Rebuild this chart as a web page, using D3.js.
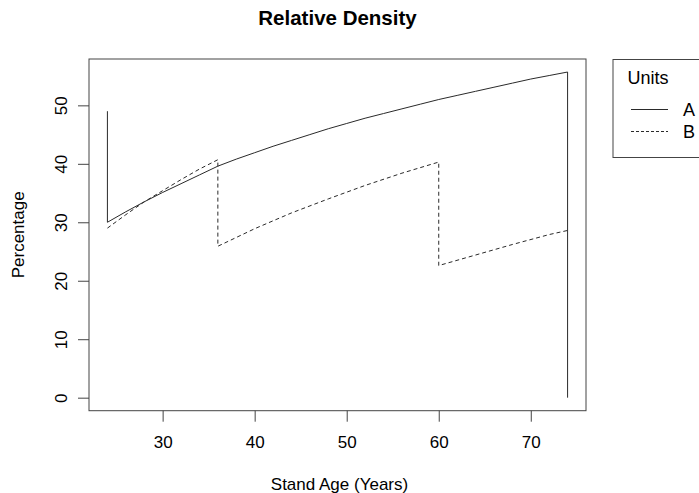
<!DOCTYPE html>
<html>
<head>
<meta charset="utf-8">
<script src="https://cdn.jsdelivr.net/npm/d3@7"></script>
<style>
  body { margin: 0; background: #fff; }
  svg text { font-family: "Liberation Sans", Arial, sans-serif; fill: #000; }
</style>
</head>
<body>
<script>
// series A (solid)
var ageA = [24, 24, 26, 28, 30, 32, 34, 36, 38, 40, 42, 44, 46, 48, 50, 52, 54, 56, 58, 60, 62, 64, 66, 68, 70, 72, 74, 74];
var valA = [49, 30.0, 31.8, 33.5, 35.1, 36.6, 38.1, 39.6, 40.8, 41.9, 43.0, 44.0, 45.0, 46.0, 46.9, 47.8, 48.6, 49.4, 50.2, 51.0, 51.7, 52.4, 53.1, 53.8, 54.5, 55.1, 55.7, 0];
// series B (dashed)
var ageB = [24, 26, 28, 30, 32, 34, 36, 36, 40, 44, 48, 52, 56, 60, 60, 64, 68, 72, 74];
var valB = [29.0, 31.3, 33.5, 35.4, 37.3, 39.1, 40.7, 25.9, 28.9, 31.6, 34.0, 36.3, 38.4, 40.3, 22.6, 24.4, 26.2, 27.9, 28.6];

var xTicks = [30, 40, 50, 60, 70];
var yTicks = [0, 10, 20, 30, 40, 50];
var legendLabels = ["A", "B"];

var width = 699, height = 493;
var box = {left: 89, right: 586, top: 59, bottom: 410.7};

var svg = d3.select("body").append("svg")
  .attr("width", width)
  .attr("height", height);

// R style 4% padding on each side
function padded(ext) {
  var p = (ext[1] - ext[0]) * 0.04;
  return [ext[0] - p, ext[1] + p];
}

var x = d3.scaleLinear()
  .domain(padded(d3.extent(ageA.concat(ageB))))
  .range([box.left, box.right]);

var y = d3.scaleLinear()
  .domain(padded(d3.extent(valA.concat(valB))))
  .range([box.bottom, box.top]);

var line = d3.line()
  .x(function(d) { return x(d[0]); })
  .y(function(d) { return y(d[1]); });

var ink = "#2a2a2a";

// plot box
svg.append("rect")
  .attr("x", box.left).attr("y", box.top)
  .attr("width", box.right - box.left)
  .attr("height", box.bottom - box.top)
  .attr("fill", "none")
  .attr("stroke", "#444");

// x axis
var xAxis = svg.append("g")
  .attr("transform", "translate(0," + box.bottom + ")")
  .call(d3.axisBottom(x).tickValues(xTicks).tickSize(11).tickPadding(14).tickSizeOuter(0));
xAxis.select(".domain").remove();
xAxis.selectAll("line").attr("stroke", "#444");
xAxis.selectAll("text").attr("font-size", 17).attr("fill", "#000");

// y axis, labels turned
var yAxis = svg.append("g")
  .attr("transform", "translate(" + box.left + ",0)")
  .call(d3.axisLeft(y).tickValues(yTicks).tickSize(11).tickSizeOuter(0));
yAxis.select(".domain").remove();
yAxis.selectAll("line").attr("stroke", "#444");
yAxis.selectAll("text")
  .attr("font-size", 17)
  .attr("fill", "#000")
  .attr("x", null).attr("dy", null)
  .attr("text-anchor", "middle")
  .attr("transform", "translate(-28,0) rotate(-90)")
  .attr("dy", "0.35em");

// lines
svg.append("path")
  .attr("d", line(d3.zip(ageA, valA)))
  .attr("fill", "none")
  .attr("stroke", ink)
  .attr("stroke-width", 1);

svg.append("path")
  .attr("d", line(d3.zip(ageB, valB)))
  .attr("fill", "none")
  .attr("stroke", ink)
  .attr("stroke-width", 1)
  .attr("stroke-dasharray", "4,3");

// titles
svg.append("text")
  .attr("x", (box.left + box.right) / 2).attr("y", 25)
  .attr("text-anchor", "middle")
  .attr("font-size", 20.5).attr("font-weight", "bold")
  .text("Relative Density");

svg.append("text")
  .attr("x", (box.left + box.right) / 2 + 2).attr("y", 490)
  .attr("text-anchor", "middle")
  .attr("font-size", 17)
  .text("Stand Age (Years)");

svg.append("text")
  .attr("transform", "translate(24," + (box.top + box.bottom) / 2 + ") rotate(-90)")
  .attr("text-anchor", "middle")
  .attr("font-size", 17)
  .text("Percentage");

// legend
var leg = svg.append("g");
leg.append("rect")
  .attr("x", 613).attr("y", 59.5)
  .attr("width", 120).attr("height", 98)
  .attr("fill", "none").attr("stroke", "#444");
leg.append("text")
  .attr("x", 648).attr("y", 84)
  .attr("text-anchor", "middle")
  .attr("font-size", 18)
  .text("Units");

leg.selectAll(".item")
  .data(legendLabels)
  .enter().append("g")
  .attr("class", "item")
  .attr("transform", function(d, i) { return "translate(0," + (109.5 + i * 22) + ")"; })
  .each(function(d, i) {
    var g = d3.select(this);
    g.append("line")
      .attr("x1", 631).attr("x2", 668)
      .attr("stroke", ink)
      .attr("stroke-dasharray", i === 0 ? null : "3,2");
    g.append("text")
      .attr("x", 683).attr("dy", "0.36em")
      .attr("font-size", 18)
      .text(d);
  });
</script>
</body>
</html>
